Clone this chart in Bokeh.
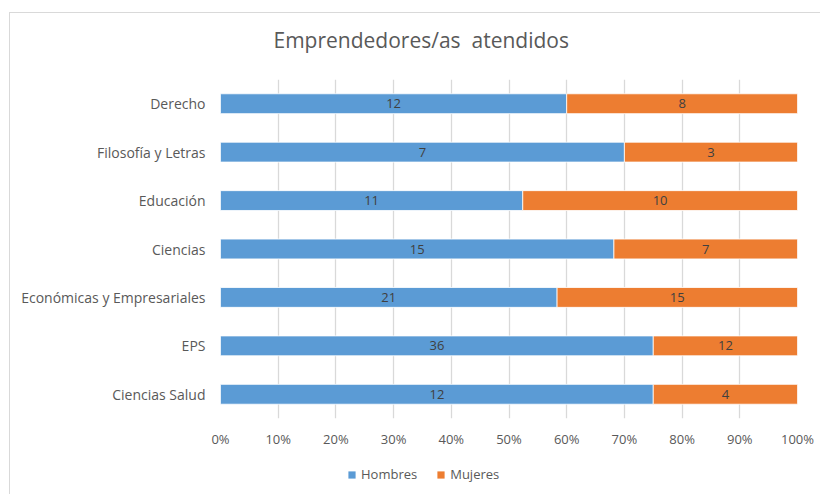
from bokeh.plotting import figure
from bokeh.layouts import column
from bokeh.models import (FactorRange, Range1d, NumeralTickFormatter, FixedTicker,
                          ColumnDataSource, Legend, LegendItem)
from bokeh.core.properties import value
from bokeh.embed import file_html
from bokeh.resources import INLINE

title_text = "Emprendedores/as\u00a0 atendidos"
categories = ["Ciencias Salud", "EPS", "Económicas y Empresariales", "Ciencias",
              "Educación", "Filosofía y Letras", "Derecho"]
hombres = [12, 36, 21, 15, 11, 7, 12]
mujeres = [4, 12, 15, 7, 10, 3, 8]
series = ["Hombres", "Mujeres"]
x_ticks = [0, 0.1, 0.2, 0.3, 0.4, 0.5, 0.6, 0.7, 0.8, 0.9, 1.0]

BLUE = "#5B9BD5"
ORANGE = "#ED7D31"
GRAY = "#595959"
FONT = "Open Sans"

tot = [h + m for h, m in zip(hombres, mujeres)]
ph = [h / t for h, t in zip(hombres, tot)]
pm = [m / t for m, t in zip(mujeres, tot)]

src = ColumnDataSource(dict(
    cat=categories, ph=ph, pm=pm,
    hx=[v / 2 for v in ph], mx=[a + b / 2 for a, b in zip(ph, pm)],
    hl=[str(v) for v in hombres], ml=[str(v) for v in mujeres],
))


def strip(height):
    f = figure(width=810, height=height, output_backend="svg", toolbar_location=None,
               x_range=Range1d(2, 3), y_range=FactorRange(factors=categories),
               x_axis_location=None, y_axis_location=None,
               min_border_left=210, min_border_right=23,
               min_border_top=0, min_border_bottom=0)
    f.outline_line_color = None
    f.xgrid.visible = False
    f.ygrid.visible = False
    return f


# title strip
tf = strip(66)
tf.title.text = title_text
tf.title.text_font = FONT
tf.title.text_font_size = "21px"
tf.title.text_font_style = "normal"
tf.title.text_color = GRAY
tf.title.align = "left"
tf.title.offset = 53
tf.title.standoff = 20

# main chart
fig = figure(width=810, height=374, output_backend="svg", toolbar_location=None,
             y_range=FactorRange(factors=categories, range_padding=0),
             x_range=Range1d(0, 1),
             min_border_left=210, min_border_right=23, min_border_top=0, min_border_bottom=35)
fig.outline_line_color = None
fig.hbar_stack(["ph", "pm"], y="cat", height=0.41, color=[BLUE, ORANGE],
               line_color="white", line_width=0.8, source=src)

fig.text(x="hx", y="cat", text="hl", source=src, text_align="center", text_baseline="middle",
         text_font=value(FONT), text_font_size="13px", text_color="#404040")
fig.text(x="mx", y="cat", text="ml", source=src, text_align="center", text_baseline="middle",
         text_font=value(FONT), text_font_size="13px", text_color="#404040")

fig.xaxis.ticker = FixedTicker(ticks=x_ticks)
fig.xaxis.formatter = NumeralTickFormatter(format="0%")
for ax in (fig.xaxis, fig.yaxis):
    ax.axis_line_color = None
    ax.major_tick_line_color = None
    ax.minor_tick_line_color = None
    ax.major_label_text_font = FONT
    ax.major_label_text_color = GRAY
fig.xaxis.major_label_text_font_size = "13px"
fig.yaxis.major_label_text_font_size = "14px"
fig.xaxis.major_label_standoff = 5
fig.yaxis.major_label_standoff = 9

fig.ygrid.grid_line_color = None
fig.xgrid.grid_line_color = "#D9D9D9"
fig.xgrid.grid_line_width = 1.3

# legend strip (zero-height bars: only their legend swatches are seen)
lf = strip(41)
lr = lf.hbar_stack(["ph", "pm"], y="cat", height=0, color=[BLUE, ORANGE],
                   line_color=None, source=src)
legend = Legend(items=[LegendItem(label=series[0], renderers=[lr[0]]),
                       LegendItem(label=series[1], renderers=[lr[1]])],
                orientation="horizontal", location=(127, 11),
                glyph_width=9, glyph_height=9, label_standoff=5, spacing=19,
                padding=0, margin=0, border_line_color=None, background_fill_alpha=0,
                label_text_font=FONT, label_text_font_size="13px", label_text_color=GRAY,
                label_height=18)
lf.add_layout(legend, "center")

p = column(tf, fig, lf, spacing=0)
p.styles = {"border-top": "1px solid #D9D9D9", "border-left": "1px solid #D9D9D9",
            "margin-top": "12px", "margin-left": "9px"}

open("out.html", "w").write(file_html(p, INLINE))
